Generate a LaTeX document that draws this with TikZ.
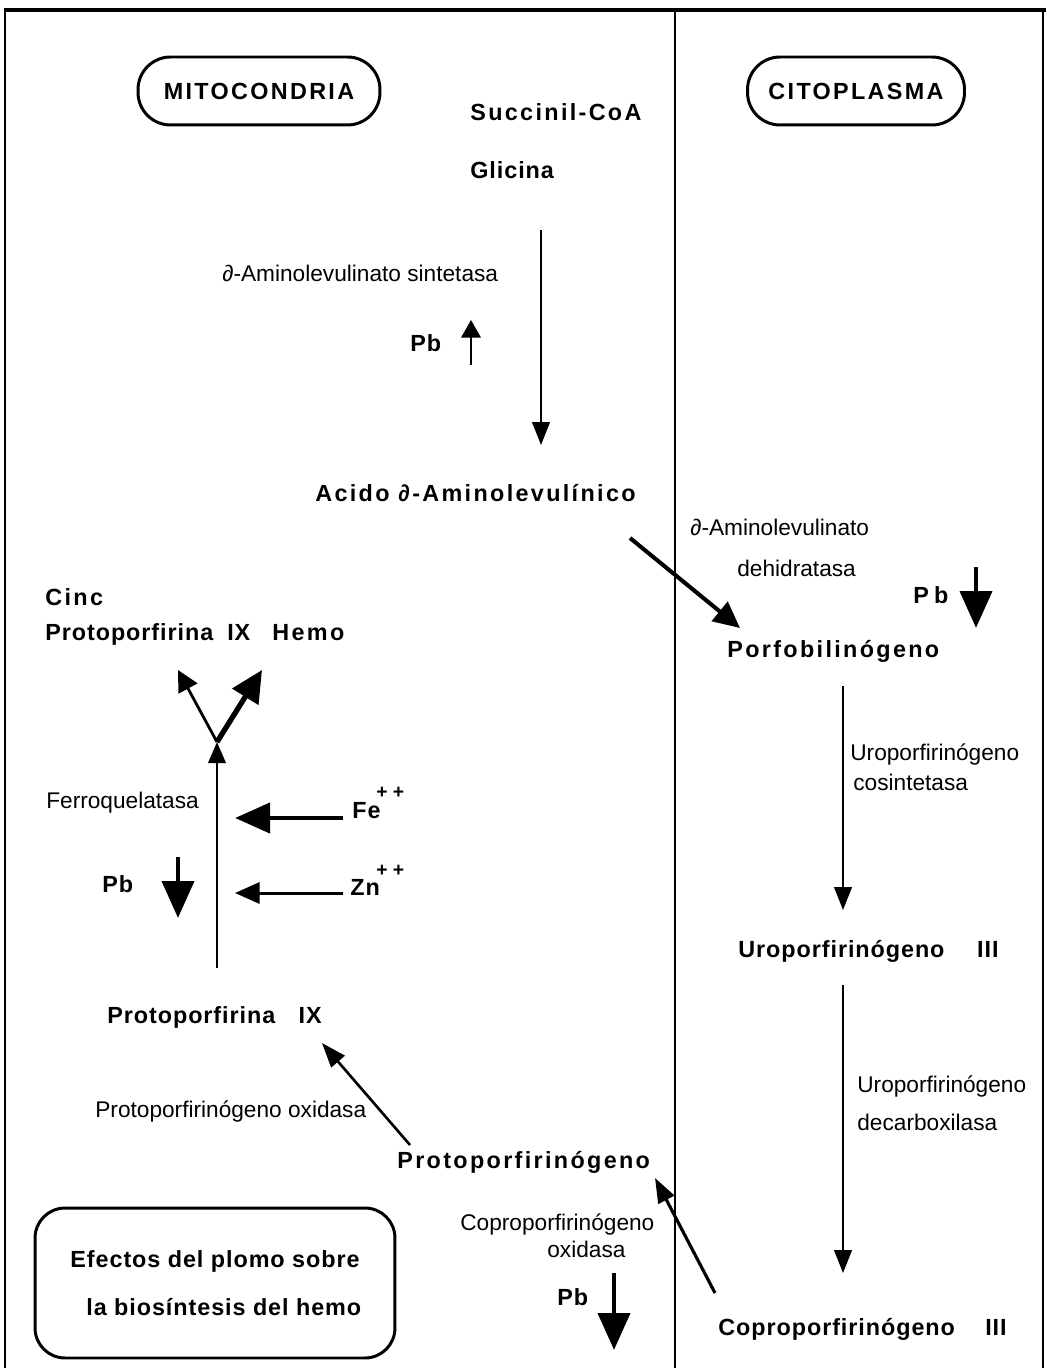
\documentclass[tikz,border=0pt]{standalone}
\usepackage{fontspec}
\setmainfont{Liberation Sans}
\newfontfamily\anchofont[LetterSpace=10]{Liberation Sans}
\newfontfamily\mediofont[LetterSpace=4]{Liberation Sans}
\usetikzlibrary{arrows.meta,positioning}

\begin{document}
\begin{tikzpicture}[x=0.02cm,y=-0.02cm,
  every node/.style={inner sep=0pt,anchor=base west},
  ancho/.style={font=\anchofont\bfseries\fontsize{13.3}{16}\selectfont},
  medio/.style={font=\mediofont\bfseries\fontsize{13.3}{16}\selectfont},
  enzima/.style={font=\fontsize{12.9}{15}\selectfont},
  caja/.style={draw,line width=1.7pt,rounded corners=0.65cm,minimum height=1.36cm,anchor=center},
  flecha/.style={line width=1.2pt,-{Triangle[length=13pt,width=10pt]}},
  diagonal/.style={line width=2.3pt,-{Triangle[length=15pt,width=14pt]}},
  oblicua/.style={line width=1.5pt,-{Triangle[length=14pt,width=10pt]}},
  flechapb/.style={line width=2.8pt,-{Triangle[length=21pt,width=18pt]}},
  mas/.style={font=\bfseries\fontsize{11}{12}\selectfont}]
 \useasboundingbox (0,0) rectangle (1046,1368);
 \draw[line width=1.5pt] (5,1368) -- (5,10) -- (1043,10) -- (1043,1368);
 \draw[line width=2.5pt] (4,10) -- (1046,10);
 \draw[line width=1.1pt] (675,10) -- (675,1368);

 \node[caja,ancho,minimum width=4.84cm] (mito) at (259,91) {MITOCONDRIA};
 \node[caja,ancho,minimum width=4.34cm] (cito) at (856,91) {CITOPLASMA};

 \node[ancho] (succ) at (470,121) {Succinil-CoA};
 \node[medio] (gli) at (470,179) {Glicina};
 \node[enzima] (alasint) at (222,282) {∂-Aminolevulinato sintetasa};
 \node[medio] (pbA) at (410,351) {Pb};
 \node[ancho] (aci) at (315,501) {Acido ∂-Aminolevulínico};
 \node[enzima] (aladeh) at (690,535) {∂-Aminolevulinato};
 \node[enzima] (aladehb) at (737,576) {dehidratasa};
 \node[ancho] (pbB) at (913,603) {P\kern3pt b};
 \node[ancho] (porfo) at (727,657) {Porfobilinógeno};
 \node[enzima] (urocos) at (850,760) {Uroporfirinógeno};
 \node[enzima] (urocosb) at (853,790) {cosintetasa};
 \node[medio] (uro) at (738,957) {Uroporfirinógeno\hspace{1.4em}III};
 \node[enzima] (urodec) at (857,1092) {Uroporfirinógeno};
 \node[enzima] (urodecb) at (857,1130) {decarboxilasa};
 \node[medio] (copro) at (718,1335) {Coproporfirinógeno\hspace{1.3em}III};
 \node[ancho] (protogen) at (397,1168) {Protoporfirinógeno};
 \node[enzima] (coproox) at (460,1230) {Coproporfirinógeno};
 \node[enzima] (coprooxb) at (547,1257) {oxidasa};
 \node[medio] (pbC) at (557,1305) {Pb};
 \node[caja,medio,align=center,font=\mediofont\bfseries\fontsize{13.3}{27.2}\selectfont,
   minimum width=7.2cm,minimum height=3cm,rounded corners=0.6cm] (efectos) at (215,1283)
   {Efectos del plomo sobre\\ \hspace*{10pt}la biosíntesis del hemo};
 \node[enzima] (protoox) at (95,1117) {Protoporfirinógeno oxidasa};
 \node[medio] (proto) at (107,1023) {Protoporfirina\hspace{1em}IX};
 \node[enzima] (ferro) at (46,808) {Ferroquelatasa};
 \node[medio] (fe) at (352,818) {Fe};
 \node[mas] (fepp) at (376,798) {+\kern3pt+};
 \node[medio] (zn) at (350,895) {Zn};
 \node[mas] (znpp) at (376,876) {+\kern3pt+};
 \node[medio] (pbD) at (102,892) {Pb};
 \node[ancho] (cinc) at (45,605) {Cinc};
 \node[medio] (protob) at (45,640) {Protoporfirina\hspace{0.6em}IX};
 \node[ancho] (hemo) at (272,640) {Hemo};
 \coordinate (ramal) at (217,742);

 \draw[flecha] ([shift={(71,51)}]gli.base west) -- ([shift={(226,-56)}]aci.base west);
 \draw[diagonal] ([shift={(315,37)}]aci.base west) -- ([shift={(13,-29)}]porfo.base west);
 \draw[flecha] ([shift={(116,29)}]porfo.base west) -- ([shift={(105,-47)}]uro.base west);
 \draw[flecha] ([shift={(105,28)}]uro.base west) -- ([shift={(125,-62)}]copro.base west);
 \draw[oblicua,line width=1.8pt] ([shift={(-3,-42)}]copro.base west) -- ([shift={(258,10)}]protogen.base west);
 \draw[oblicua] ([shift={(13,-23)}]protogen.base west) -- ([shift={(215,20)}]proto.base west);
 \draw[flecha,-{Triangle[length=12pt,width=10pt]}] ([shift={(110,-55)}]proto.base west) -- (ramal);
 \draw[line width=1.6pt,-{Triangle[length=12pt,width=12pt]}] (ramal) -- ([shift={(133,30)}]protob.base west);
 \draw[line width=3pt,-{Triangle[length=18pt,width=17pt]}] (ramal) -- ([shift={(-10,30)}]hemo.base west);
 \draw[line width=2.8pt,-{Triangle[length=20pt,width=17pt]}] ([shift={(-9,0)}]fe.base west) -- ([shift={(-117,0)}]fe.base west);
 \draw[line width=1.7pt,-{Triangle[length=14pt,width=12pt]}] ([shift={(-7,-2)}]zn.base west) -- ([shift={(-115,-2)}]zn.base west);

 \draw[line width=1.3pt,-{Triangle[length=10pt,width=11pt]}] ([shift={(61,14)}]pbA.base west) -- ([shift={(61,-31)}]pbA.base west);
 \draw[flechapb] ([shift={(63,-36)}]pbB.base west) -- ([shift={(63,25)}]pbB.base west);
 \draw[flechapb] ([shift={(57,-32)}]pbC.base west) -- ([shift={(57,45)}]pbC.base west);
 \draw[flechapb] ([shift={(76,-35)}]pbD.base west) -- ([shift={(76,26)}]pbD.base west);
\end{tikzpicture}
\end{document}
